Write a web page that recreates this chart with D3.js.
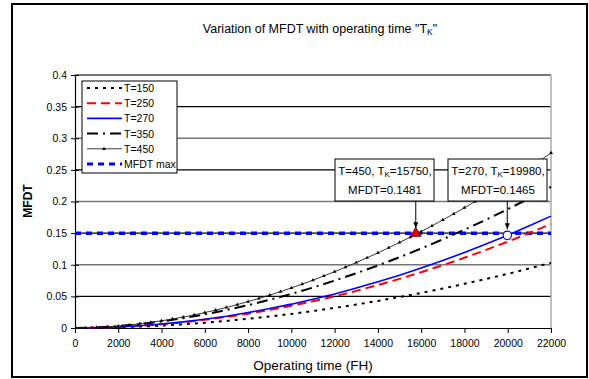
<!DOCTYPE html>
<html>
<head>
<meta charset="utf-8">
<script src="https://cdn.jsdelivr.net/npm/d3@7"></script>
<style>
  body { margin: 0; background: #fff; }
  svg { font-family: "Liberation Sans", Arial, sans-serif; }
</style>
</head>
<body>
<div class="chart"></div>
<script>
// x values (operating time, FH)
const hours = [0, 1000, 2000, 3000, 4000, 5000, 6000, 7000, 8000, 9000, 10000, 11000,
  12000, 13000, 14000, 15000, 16000, 17000, 18000, 19000, 20000, 21000, 22000];
const hours450 = [0, 500, 1000, 1500, 2000, 2500, 3000, 3500, 4000, 4500, 5000, 5500,
  6000, 6500, 7000, 7500, 8000, 8500, 9000, 9500, 10000, 10500, 11000, 11500,
  12000, 12500, 13000, 13500, 14000, 14500, 15000, 15500, 16000, 16500, 17000, 17500,
  18000, 18500, 19000, 19500, 20000, 20500, 21000, 21500, 22000];

// MFDT series
const t150 = [0, 0.0003, 0.0010, 0.0022, 0.0038, 0.0058, 0.0083, 0.0112, 0.0145, 0.0182, 0.0223, 0.0268,
  0.0318, 0.0371, 0.0428, 0.0490, 0.0555, 0.0624, 0.0698, 0.0775, 0.0856, 0.0941, 0.1030];
const t250 = [0, 0.0004, 0.0015, 0.0033, 0.0059, 0.0090, 0.0129, 0.0174, 0.0227, 0.0286, 0.0351, 0.0423,
  0.0501, 0.0587, 0.0679, 0.0777, 0.0882, 0.0993, 0.1110, 0.1235, 0.1365, 0.1502, 0.1645];
const t270 = [0, 0.0004, 0.0016, 0.0036, 0.0063, 0.0097, 0.0139, 0.0187, 0.0244, 0.0307, 0.0377, 0.0455,
  0.0539, 0.0631, 0.0730, 0.0835, 0.0948, 0.1068, 0.1194, 0.1328, 0.1468, 0.1615, 0.1769];
const t350 = [0, 0.0009, 0.0030, 0.0062, 0.0104, 0.0155, 0.0215, 0.0284, 0.0361, 0.0446, 0.0539, 0.0640,
  0.0749, 0.0865, 0.0988, 0.1119, 0.1257, 0.1402, 0.1554, 0.1713, 0.1878, 0.2051, 0.2230];
const t450 = [0, 0.0002, 0.0009, 0.0018, 0.0031, 0.0047, 0.0067, 0.0089, 0.0114, 0.0142, 0.0173, 0.0207,
  0.0244, 0.0283, 0.0325, 0.0370, 0.0418, 0.0468, 0.0520, 0.0576, 0.0633, 0.0694, 0.0757, 0.0823,
  0.0891, 0.0961, 0.1035, 0.1110, 0.1188, 0.1269, 0.1352, 0.1437, 0.1525, 0.1616, 0.1709, 0.1804,
  0.1901, 0.2001, 0.2103, 0.2208, 0.2315, 0.2424, 0.2537, 0.2650, 0.2767];
const mfdtMax = 0.15;

// highlighted points
const pt450 = { t: 15750, v: 0.1481 };
const pt270 = { t: 19980, v: 0.1465 };

// axis ticks
const xTicks = d3.range(0, 22001, 2000);
const yTicks = [0, 0.05, 0.1, 0.15, 0.2, 0.25, 0.3, 0.35, 0.4];

// sizes
const W = 589, H = 379;
const plotL = 75, plotR = 551, plotT = 75, plotB = 328;

const svg = d3.select("div.chart").append("svg")
  .attr("width", W)
  .attr("height", H);

// outer frame
svg.append("rect")
  .attr("x", 12).attr("y", 4)
  .attr("width", 575).attr("height", 373)
  .attr("fill", "#fff")
  .attr("stroke", "#000")
  .attr("stroke-width", 2);

const xScale = d3.scaleLinear().domain([0, 22000]).range([plotL, plotR]);
const yScale = d3.scaleLinear().domain([0, 0.4]).range([plotB, plotT]);

// gridlines (alternating like the scanned picture)
svg.append("g").selectAll("line")
  .data(yTicks.slice(1))
  .enter()
  .append("line")
  .attr("x1", plotL).attr("x2", plotR)
  .attr("y1", d => yScale(d)).attr("y2", d => yScale(d))
  .attr("stroke", (d, i) => i % 2 === 0 ? "#000" : "#777")
  .attr("stroke-width", (d, i) => i === yTicks.length - 2 ? 2 : (i % 2 === 0 ? 1.2 : 1.5));

// right border of plot area
svg.append("line")
  .attr("x1", plotR).attr("x2", plotR)
  .attr("y1", plotT).attr("y2", plotB)
  .attr("stroke", "#aaa")
  .attr("stroke-width", 1.5);

// axes
const xAxis = d3.axisBottom(xScale).tickValues(xTicks).tickSize(5).tickSizeOuter(0).tickFormat(d3.format("d"));
const gx = svg.append("g")
  .attr("transform", "translate(0," + plotB + ")")
  .call(xAxis);
gx.select(".domain").attr("stroke", "#000").attr("stroke-width", 1.2);
gx.selectAll(".tick line").attr("stroke", "#000");
gx.selectAll("text").attr("font-size", 10.5).attr("font-family", "Liberation Sans, Arial").attr("dy", "1.05em").attr("fill", "#000");

const yAxis = d3.axisLeft(yScale).tickValues(yTicks).tickSize(4).tickSizeOuter(0).tickFormat(d => d === 0 ? "0" : d3.format("")(d));
const gy = svg.append("g")
  .attr("transform", "translate(" + plotL + ",0)")
  .call(yAxis);
gy.select(".domain").attr("stroke", "#000").attr("stroke-width", 1.2);
gy.selectAll(".tick line").attr("x2", 4).attr("x1", -4).attr("stroke", "#000");
gy.selectAll("text").attr("font-size", 10.5).attr("font-family", "Liberation Sans, Arial").attr("x", -8).attr("fill", "#000");

// series
const line = d3.line()
  .x(d => xScale(d[0]))
  .y(d => yScale(d[1]));

const series = [
  { name: "T=150", xs: hours, ys: t150, color: "#000", width: 2, dash: "3,5" },
  { name: "T=250", xs: hours, ys: t250, color: "#ff0000", width: 2, dash: "9,5" },
  { name: "T=270", xs: hours, ys: t270, color: "#0000ff", width: 1.6, dash: null },
  { name: "T=350", xs: hours, ys: t350, color: "#000", width: 2, dash: "11,5,2,5" },
  { name: "T=450", xs: hours450, ys: t450, color: "#222", width: 0.9, dash: null, marker: true }
];

svg.append("line")
  .attr("x1", xScale(0)).attr("x2", xScale(22000))
  .attr("y1", yScale(mfdtMax)).attr("y2", yScale(mfdtMax))
  .attr("stroke", "#0000ff")
  .attr("stroke-width", 3.5)
  .attr("stroke-dasharray", "6,5");

series.forEach(s => {
  const pts = s.xs.map((x, i) => [x, s.ys[i]]);
  svg.append("path")
    .datum(pts)
    .attr("fill", "none")
    .attr("stroke", s.color)
    .attr("stroke-width", s.width)
    .attr("stroke-dasharray", s.dash)
    .attr("d", line);
  if (s.marker) {
    svg.append("g").selectAll("path")
      .data(pts.slice(1))
      .enter()
      .append("path")
      .attr("transform", d => "translate(" + xScale(d[0]) + "," + yScale(d[1]) + ")")
      .attr("d", d3.symbol(d3.symbolTriangle, 6))
      .attr("fill", "#000");
  }
});

// annotation boxes
function note(cx, lines, pt) {
  const bx = cx - 50, by = 159, bw = 99, bh = 42;
  svg.append("rect")
    .attr("x", bx).attr("y", by).attr("width", bw).attr("height", bh)
    .attr("fill", "#fff").attr("stroke", "#000").attr("stroke-width", 1);
  const t = svg.append("text")
    .attr("text-anchor", "middle")
    .attr("font-size", 11.5)
    .attr("fill", "#000");
  t.append("tspan").attr("x", cx).attr("y", by + 16).text(lines[0][0]);
  t.append("tspan").attr("font-size", 8).attr("dy", 2).text("K");
  t.append("tspan").attr("dy", -2).text(lines[0][1]);
  t.append("tspan").attr("x", cx).attr("y", by + 35).text(lines[1]);
  svg.append("line")
    .attr("x1", xScale(pt.t)).attr("x2", xScale(pt.t))
    .attr("y1", by + bh).attr("y2", yScale(pt.v) - 6)
    .attr("stroke", "#000").attr("stroke-width", 1);
  svg.append("path")
    .attr("transform", "translate(" + xScale(pt.t) + "," + (yScale(pt.v) - 6) + ")")
    .attr("d", "M-2.5,-6L2.5,-6L0,0Z")
    .attr("fill", "#000");
}
note(385, [["T=450, T", "=15750,"], "MFDT=0.1481"], pt450);
note(498, [["T=270, T", "=19980,"], "MFDT=0.1465"], pt270);

// point markers
svg.append("path")
  .attr("transform", "translate(" + xScale(pt450.t) + "," + (yScale(pt450.v) - 1) + ")")
  .attr("d", d3.symbol(d3.symbolTriangle, 50))
  .attr("fill", "#e00000")
  .attr("stroke", "#600")
  .attr("stroke-width", 0.7);
svg.append("circle")
  .attr("cx", xScale(pt270.t)).attr("cy", yScale(pt270.v))
  .attr("r", 4.2)
  .attr("fill", "#fff")
  .attr("stroke", "#0000ff")
  .attr("stroke-width", 1.2);

// legend
const lg = svg.append("g").attr("transform", "translate(82,81)");
lg.append("rect")
  .attr("width", 95).attr("height", 92)
  .attr("fill", "#fff").attr("stroke", "#000").attr("stroke-width", 1);
const legendItems = series.concat([{ name: "MFDT max", color: "#0000ff", width: 3, dash: "6,5" }]);
legendItems.forEach((s, i) => {
  const y = 7 + i * 15.2;
  lg.append("line")
    .attr("x1", 5).attr("x2", 40).attr("y1", y).attr("y2", y)
    .attr("stroke", s.color)
    .attr("stroke-width", s.width)
    .attr("stroke-dasharray", s.dash);
  if (s.marker) {
    lg.append("path").attr("transform", "translate(22," + y + ")")
      .attr("d", d3.symbol(d3.symbolTriangle, 6)).attr("fill", "#000");
  }
  lg.append("text")
    .attr("x", 42).attr("y", y + 4)
    .attr("font-size", 10.5)
    .attr("fill", "#000")
    .text(s.name);
});

// titles
const title = svg.append("text")
  .attr("x", 320).attr("y", 33)
  .attr("text-anchor", "middle")
  .attr("font-size", 12.5)
  .attr("fill", "#000");
title.append("tspan").text("Variation of MFDT with operating time \"T");
title.append("tspan").attr("font-size", 8.5).attr("dy", 2).text("K");
title.append("tspan").attr("dy", -2).text("\"");

svg.append("text")
  .attr("x", 313).attr("y", 370)
  .attr("text-anchor", "middle")
  .attr("font-size", 13.5)
  .attr("fill", "#000")
  .text("Operating time (FH)");

svg.append("text")
  .attr("transform", "translate(32,201) rotate(-90)")
  .attr("text-anchor", "middle")
  .attr("font-size", 12)
  .attr("font-weight", "bold")
  .attr("fill", "#000")
  .text("MFDT");
</script>
</body>
</html>
